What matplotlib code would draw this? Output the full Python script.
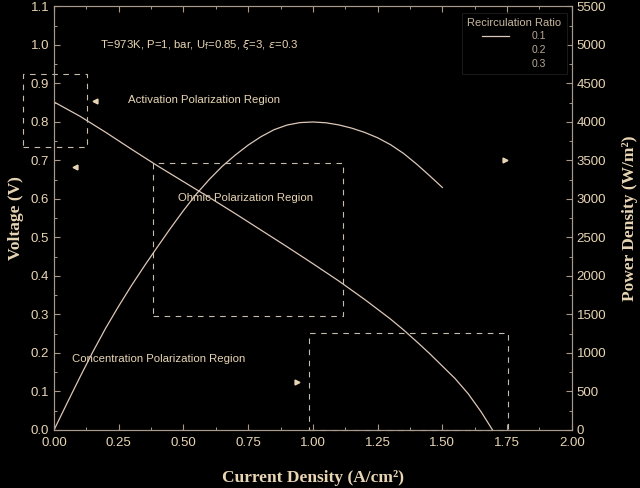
import matplotlib
matplotlib.use("Agg")
import matplotlib.pyplot as plt
from matplotlib.lines import Line2D
from matplotlib.ticker import MultipleLocator

# ---- data ----
current_v = [0.0, 0.1, 0.2, 0.3, 0.4, 0.5, 0.6, 0.7, 0.8, 0.9, 1.0, 1.1, 1.2,
             1.3, 1.35, 1.4, 1.45, 1.5, 1.55, 1.6, 1.65, 1.694]
voltage = [0.852, 0.815, 0.773, 0.729, 0.686, 0.645, 0.604, 0.562, 0.519,
           0.476, 0.432, 0.387, 0.339, 0.288, 0.260, 0.230, 0.199, 0.166,
           0.133, 0.094, 0.047, 0.0]

current_p = [0.0, 0.05, 0.1, 0.15, 0.2, 0.25, 0.3, 0.35, 0.4, 0.45, 0.5, 0.55,
             0.6, 0.65, 0.7, 0.75, 0.8, 0.85, 0.9, 0.95, 1.0, 1.05, 1.1, 1.15,
             1.2, 1.25, 1.3, 1.35, 1.4, 1.45, 1.5]
power = [0, 345, 685, 1015, 1325, 1610, 1880, 2135, 2380, 2620, 2850, 3065,
         3255, 3425, 3570, 3700, 3810, 3900, 3960, 3992, 4000, 3990, 3962,
         3920, 3865, 3795, 3705, 3592, 3455, 3305, 3150]

legend_labels = ["0.1", "0.2", "0.3"]
legend_title = "Recirculation Ratio"

# region boxes: (x0, x1, y0, y1)
box_activation = (-0.119, 0.129, 0.735, 0.925)
box_ohmic = (0.381, 1.117, 0.296, 0.693)
box_conc = (0.986, 1.754, 0.0, 0.251)

TXT = "#e8d5b4"
LINE = "#dcc7b8"
SPINE = "#a8998a"
DASH = "#c8bcb0"

fig = plt.figure(figsize=(6.4, 4.88), dpi=100, facecolor="black")
ax = fig.add_axes([0.0844, 0.1189, 0.8090, 0.8678])
ax.set_facecolor("black")
ax2 = ax.twinx()

ax.plot(current_v, voltage, color=LINE, lw=0.9)
ax2.plot(current_p, power, color=LINE, lw=0.9)

ax.set_xlim(0, 2.0)
ax.set_ylim(0, 1.1)
ax2.set_ylim(0, 5500)

ax.xaxis.set_major_locator(MultipleLocator(0.25))
ax.xaxis.set_minor_locator(MultipleLocator(0.125))
ax.yaxis.set_major_locator(MultipleLocator(0.1))
ax.yaxis.set_minor_locator(MultipleLocator(0.05))
ax2.yaxis.set_major_locator(MultipleLocator(500))
ax2.yaxis.set_minor_locator(MultipleLocator(250))

ax.xaxis.set_major_formatter(matplotlib.ticker.FormatStrFormatter("%.2f"))
ax.yaxis.set_major_formatter(matplotlib.ticker.FormatStrFormatter("%.1f"))

for a in (ax, ax2):
    for s in a.spines.values():
        s.set_color(SPINE)
        s.set_linewidth(0.8)
    a.tick_params(which="both", direction="in", colors=SPINE, labelcolor=TXT,
                  labelsize=9.5, labelfontfamily="Liberation Sans")
    a.tick_params(which="major", length=4, width=0.8)
    a.tick_params(which="minor", length=2.5, width=0.7)
ax.tick_params(which="both", top=True)
ax.tick_params(axis="x", pad=5)

lab_font = dict(family="Liberation Serif", weight="bold", size=12.5, color=TXT)
ax.set_xlabel("Current Density (A/cm²)", labelpad=15, **lab_font)
ax.set_ylabel("Voltage (V)", labelpad=5, **lab_font)
ax2.set_ylabel("Power Density (W/m²)", labelpad=11, **lab_font)

# dashed region boxes
for (x0, x1, y0, y1) in (box_activation, box_ohmic, box_conc):
    ax.plot([x0, x1, x1, x0, x0], [y0, y0, y1, y1, y0], ls=(0, (5, 5)),
            color=DASH, lw=0.8, clip_on=False)

tfont = dict(family="Liberation Sans", size=8.2, color=TXT, va="center")
ax.text(0.178, 1.0, r"T=973K, P=1, bar, U$_{\rm f}$=0.85, $\xi$=3, $\varepsilon$=0.3",
        **tfont)
ax.text(0.286, 0.857, "Activation Polarization Region", **tfont)
ax.text(0.479, 0.602, "Ohmic Polarization Region", **tfont)
ax.text(0.068, 0.184, "Concentration Polarization Region", **tfont)

# small arrow heads
for (x, y, m) in ((0.158, 0.855, "<"), (0.081, 0.683, "<"),
                  (0.938, 0.125, ">"), (1.741, 0.701, ">")):
    ax.plot([x], [y], marker=m, ms=3.5, color=TXT, mec=TXT, ls="none")

handles = [Line2D([], [], color=LINE, lw=0.9),
           Line2D([], [], color="black", lw=0.9),
           Line2D([], [], color="black", lw=0.9)]
leg = ax2.legend(handles, legend_labels, title=legend_title, loc="upper right",
                 bbox_to_anchor=(1.0, 0.998), fontsize=7.5, title_fontsize=8,
                 frameon=True, facecolor="black", edgecolor="#262626",
                 fancybox=False, handlelength=2.6, labelspacing=0.35,
                 borderpad=0.5, handletextpad=2.2, markerfirst=True)
for t in leg.get_texts():
    t.set_color("#b8a894")
    t.set_family("Liberation Sans")
leg.get_title().set_color("#c8b8a0")
leg.get_title().set_family("Liberation Sans")
leg.get_frame().set_linewidth(0.6)

fig.savefig("out.png", dpi=100, facecolor="black")
